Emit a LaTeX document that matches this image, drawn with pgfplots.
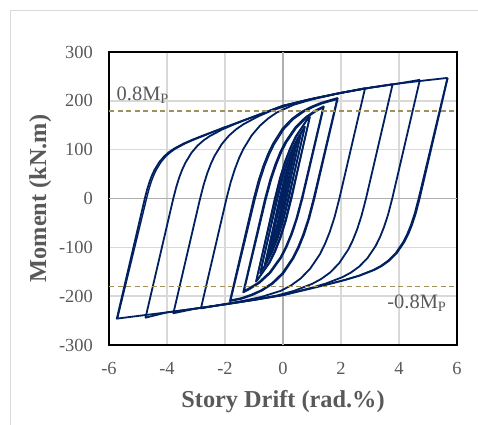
\documentclass[border=0pt]{standalone}
\usepackage{fontspec}
\setmainfont{Liberation Serif}
\usepackage{pgfplots}
\pgfplotsset{compat=1.18}
\definecolor{navyline}{RGB}{0,32,96}
\definecolor{mpcol}{RGB}{160,145,90}
\definecolor{txtgray}{RGB}{89,89,89}
\definecolor{gridgray}{RGB}{217,217,217}
\definecolor{zerogray}{RGB}{175,175,175}
\begin{document}
\begin{tikzpicture}
\useasboundingbox (0,0) rectangle (478bp,425bp);
\draw[gridgray, line width=1bp] (10bp,0) -- (10bp,414bp) -- (478bp,414bp);
\begin{axis}[
  at={(109bp,80bp)}, anchor=south west,
  scale only axis, width=348bp, height=293bp,
  xmin=-6, xmax=6, ymin=-300, ymax=300,
  xtick={-6,-4,-2,0,2,4,6}, xticklabels={-6,-4,-2,0,2,4,6},
  ytick={-300,-200,-100,0,100,200,300}, yticklabels={-300,-200,-100,0,100,200,300},
  major tick length=0pt,
  grid=major, grid style={gridgray, line width=1.4bp},
  extra x ticks={0}, extra x tick labels={},
  extra x tick style={major grid style={zerogray, line width=1.4bp}},
  extra y ticks={0}, extra y tick labels={},
  extra y tick style={major grid style={zerogray, line width=1.4bp}},
  axis line style={black, line width=1.2bp},
  ticklabel style={font=\fontsize{18.5}{20}\selectfont, text=txtgray, inner sep=0pt},
  xticklabel style={anchor=north, yshift=-17bp},
  yticklabel style={anchor=east, xshift=-16bp},
  xlabel={Story Drift (rad.\%)}, ylabel={Moment (kN.m)},
  label style={font=\fontsize{24.4}{28}\selectfont\bfseries, text=txtgray},
  xlabel style={at={(axis description cs:0.5,-0.215)}, anchor=base},
  ylabel style={at={(axis description cs:-0.181,0.5)}, anchor=base},
  loop/.style={color=navyline, line width=1.8bp, line join=round, mark=none},
  loopb/.style={color=navyline, line width=1.4bp, line join=round, mark=none},
]
% outer loop ~ +-5.7 %
\addplot[loop] coordinates {
(5.68,247) (4.711,0) (4.582,-29.6) (4.452,-53.4) (4.323,-72.5) (4.193,-88.1) (3.934,-111.0) (3.675,-126.7) (3.416,-137.8) (3.158,-146.1) (2.640,-158.1) (2.122,-167.2) (1.604,-175.1) (1.0,-183.9) (0,-198) (-1,-207.7) (-2,-216.8) (-3,-225.3) (-4,-233.2) (-5,-240.5) (-5.73,-246)
(-4.765,0) (-4.682,19.2) (-4.598,35.0) (-4.515,47.8) (-4.431,58.5) (-4.264,74.7) (-4.097,86.4) (-3.930,95.0) (-3.763,101.9) (-3.429,112.5) (-3.095,121.1) (-2.761,128.9) (-2,146) (-1,168) (0,190) (1,204.1) (2,216.4) (3,226.9) (4,235.6) (5,242.5) (5.68,247)
};
% second cycle, partial
\addplot[loopb] coordinates {
(-5.70,-244) (-4.705,0) (-4.622,19.2) (-4.538,35.0) (-4.455,47.8) (-4.371,58.5) (-4.204,74.7) (-4.037,86.4) (-3.870,95.0) (-3.703,101.9) (-3.369,112.5) (-3.035,121.1) (-2.700,128.9) (-2,146.5)
};
\addplot[loopb] coordinates {
(5.66,246) (4.67,0) (4.54,-29.6) (4.41,-53.4) (4.28,-72.5) (4.15,-88.1) (3.89,-111.0) (3.63,-126.7) (3.37,-137.8) (3.11,-146.1) (2.60,-158.1) (2.08,-167.2) (1.5,-176)
};
% +-4.7 %
\addplot[loop] coordinates {
(4.72,243) (3.767,0) (3.625,-32.6) (3.482,-58.7) (3.340,-79.8) (3.197,-96.9) (2.912,-122.2) (2.628,-139.4) (2.343,-151.6) (2.058,-160.8) (1.488,-173.9) (0.918,-183.9) (0,-197.7) (-1,-207.7) (-2,-216.8) (-3,-225.3) (-4,-233.2) (-4.74,-244)
(-3.783,0) (-3.678,24.1) (-3.574,43.8) (-3.469,60.0) (-3.364,73.3) (-3.155,93.7) (-2.946,108.3) (-2.736,119.2) (-2.527,127.7) (-2.108,141.0) (-1.690,151.8) (-1.271,161.6) (0,190) (1,204.1) (2,216.4) (3,226.9) (4,235.6) (4.72,243)
};
% +-3.8 %
\addplot[loop] coordinates {
(3.78,234) (2.862,0) (2.707,-35.4) (2.552,-63.9) (2.398,-86.8) (2.243,-105.3) (1.933,-132.8) (1.623,-151.6) (1.314,-164.9) (1.004,-174.8) (0.385,-189.1) (-0.235,-199.0) (-1,-207.3) (-2,-216.8) (-3,-225.3) (-3.78,-235)
(-2.858,0) (-2.733,28.7) (-2.609,52.2) (-2.484,71.4) (-2.360,87.3) (-2.110,111.5) (-1.861,128.9) (-1.612,141.9) (-1.362,152.1) (-0.864,167.9) (-0.366,180.7) (0.5,197.0) (1,204.1) (2,216.4) (3,226.9) (3.78,234)
};
% +-2.8 %
\addplot[loop] coordinates {
(2.83,226) (1.944,0) (1.777,-38.3) (1.609,-69.0) (1.442,-93.8) (1.274,-113.9) (0.939,-143.6) (0.605,-163.9) (0.270,-178.3) (-0.065,-188.8) (-0.735,-201.4) (-1.405,-210.0) (-2.1,-217.2) (-2.83,-225)
(-1.948,0) (-1.804,33.2) (-1.659,60.4) (-1.515,82.7) (-1.371,101.0) (-1.082,129.1) (-0.794,149.2) (-0.505,164.2) (-0.217,176.0) (0.360,191.7) (0.938,201.9) (1.8,213.8) (2.83,226)
};
% +-1.9 %
\addplot[loop] coordinates {
(1.89,206) (1.082,0) (0.903,-41.0) (0.724,-73.9) (0.544,-100.4) (0.365,-121.9) (0.006,-153.8) (-0.352,-174.2) (-0.711,-188.1) (-1.069,-198.0) (-1.428,-205.3) (-1.83,-210)
(-1.006,0) (-0.842,36.8) (-0.677,66.8) (-0.513,91.5) (-0.348,111.8) (-0.019,142.9) (0.311,163.3) (0.640,177.4) (0.969,187.7) (1.298,195.6) (1.89,206)
};
\addplot[loopb] coordinates {
(1.86,203) (1.05,0) (0.87,-41) (0.69,-73.5) (0.51,-100) (0.33,-121.5) (-0.03,-153) (-0.39,-173.5) (-0.75,-187.5) (-1.11,-197) (-1.46,-204) (-1.80,-208)
(-0.96,0) (-0.795,36.5) (-0.63,66.5) (-0.465,91) (-0.30,111) (0.03,142) (0.36,162.5) (0.69,176.5) (1.02,186.5) (1.33,194) (1.86,203)
};
% +-1.4 %
\addplot[loop] coordinates {
(1.41,189) (0.669,0) (0.484,-41.0) (0.299,-74.0) (0.114,-100.5) (-0.071,-121.8) (-0.441,-152.5) (-0.810,-172.7) (-1.180,-186.4) (-1.37,-192)
(-0.617,0) (-0.444,38.1) (-0.271,69.1) (-0.098,94.5) (0.075,115.2) (0.421,145.4) (0.767,165.8) (1.113,180.0) (1.41,189)
};
\addplot[loopb] coordinates {
(1.38,186) (0.64,0) (0.455,-41) (0.27,-73.5) (0.085,-100) (-0.10,-121) (-0.47,-151.5) (-0.84,-171.5) (-1.20,-184.5) (-1.34,-189)
(-0.58,0) (-0.405,38) (-0.23,69) (-0.06,94) (0.115,114.5) (0.46,144.5) (0.805,165) (1.15,179) (1.38,186)
};
% +-0.93 %
\addplot[loop] coordinates {
(0.93,168) (0.271,0) (0.081,-45.0) (-0.110,-81.0) (-0.300,-109.7) (-0.491,-132.7) (-0.871,-166.0) (-0.93,-170)
(-0.263,0) (-0.082,42.6) (0.098,77.0) (0.279,104.8) (0.459,127.2) (0.821,160.3) (0.93,168)
};
\addplot[loopb] coordinates {
(0.92,166) (0.30,0) (0.11,-45) (-0.08,-81) (-0.27,-109.5) (-0.46,-132) (-0.85,-164) (-0.92,-168)
(-0.29,0) (-0.11,42.5) (0.07,77) (0.25,104.5) (0.43,127) (0.80,159.5) (0.92,166)
};
% +-0.77 %
\addplot[loop] coordinates {
(0.76,148) (0.180,0) (-0.012,-45.4) (-0.203,-81.5) (-0.395,-110.3) (-0.587,-133.4) (-0.79,-153)
(-0.19,0) (-0.008,42.5) (0.174,76.6) (0.357,104.1) (0.539,126.4) (0.76,148)
};
\addplot[loopb] coordinates {
(0.74,145) (0.205,0) (0.015,-45) (-0.175,-81) (-0.365,-109.5) (-0.56,-132) (-0.77,-150)
(-0.215,0) (-0.035,42) (0.145,76) (0.33,103.5) (0.515,125) (0.74,145)
};
% +-0.62 %
\addplot[loop] coordinates {
(0.62,133) (0.098,0) (-0.095,-48.0) (-0.288,-86.1) (-0.480,-116.6) (-0.63,-136)
(-0.097,0) (0.087,45.4) (0.271,82.0) (0.456,111.5) (0.62,133)
};
\addplot[loopb] coordinates {
(0.60,130) (0.125,0) (-0.07,-47.5) (-0.26,-85) (-0.45,-114) (-0.61,-133)
(-0.125,0) (0.06,45) (0.245,81) (0.43,110) (0.60,130)
};
% +-0.5 %
\addplot[loop] coordinates {
(0.48,114) (0.033,0) (-0.161,-50.1) (-0.354,-89.9) (-0.51,-116)
(-0.055,0) (0.130,47.8) (0.315,86.1) (0.48,114)
};
\addplot[loopb] coordinates {
(0.46,110) (0.06,0) (-0.135,-49.5) (-0.325,-88.5) (-0.49,-112)
(-0.08,0) (0.105,47) (0.29,85) (0.46,110)
};
% +-0.375 %
\addplot[loopb] coordinates {
(0.36,96) (-0.016,0) (-0.2,-52) (-0.38,-98) (0.004,0) (0.18,50) (0.36,96)
};
% 0.8 Mp lines
\addplot[mpcol, line width=1.8bp, dash pattern=on 5bp off 3.5bp] coordinates {(-6,180) (6,180)};
\addplot[mpcol, line width=1.8bp, dash pattern=on 5bp off 3.5bp] coordinates {(-6,-180) (6,-180)};
\node[anchor=base west, font=\fontsize{20.5}{24}\selectfont, text=txtgray, inner sep=0pt] at (axis cs:-5.74,200) {0.8M\textsubscript{P}};
\node[anchor=base east, font=\fontsize{20.5}{24}\selectfont, text=txtgray, inner sep=0pt] at (axis cs:5.64,-225) {-0.8M\textsubscript{P}};
\end{axis}
\end{tikzpicture}
\end{document}
